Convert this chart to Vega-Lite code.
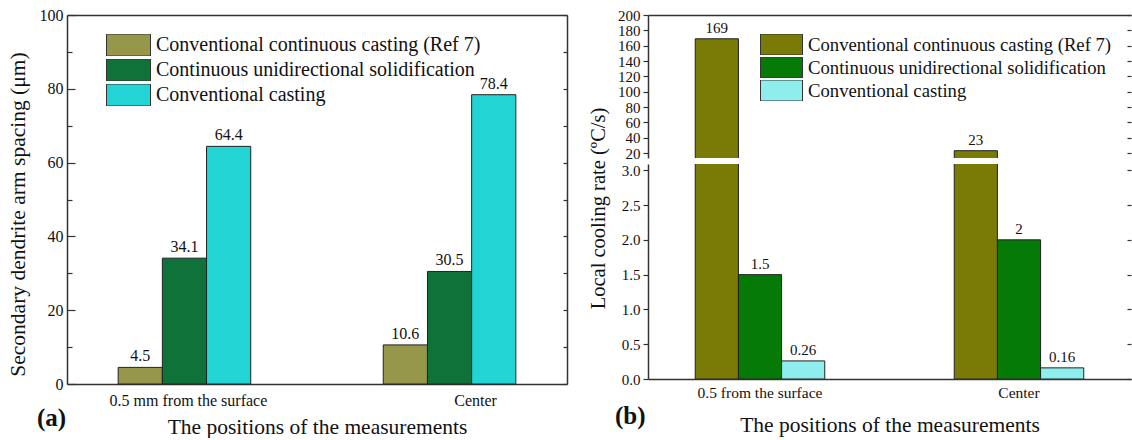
{
  "$schema": "https://vega.github.io/schema/vega-lite/v6.json",
  "padding": {"left": 7, "top": 7, "right": 0, "bottom": 0},
  "background": "white",
  "datasets": {
    "sdas": [
      {"position": "0.5 mm from the surface", "series": "Conventional continuous casting (Ref 7)", "value": 4.5},
      {"position": "0.5 mm from the surface", "series": "Continuous unidirectional solidification", "value": 34.1},
      {"position": "0.5 mm from the surface", "series": "Conventional casting", "value": 64.4},
      {"position": "Center", "series": "Conventional continuous casting (Ref 7)", "value": 10.6},
      {"position": "Center", "series": "Continuous unidirectional solidification", "value": 30.5},
      {"position": "Center", "series": "Conventional casting", "value": 78.4}
    ],
    "rate": [
      {"position": "0.5 from the surface", "series": "Conventional continuous casting (Ref 7)", "value": 169},
      {"position": "0.5 from the surface", "series": "Continuous unidirectional solidification", "value": 1.5},
      {"position": "0.5 from the surface", "series": "Conventional casting", "value": 0.26},
      {"position": "Center", "series": "Conventional continuous casting (Ref 7)", "value": 23},
      {"position": "Center", "series": "Continuous unidirectional solidification", "value": 2},
      {"position": "Center", "series": "Conventional casting", "value": 0.16}
    ]
  },
  "hconcat": [
    {
      "width": 500,
      "height": 369,
      "data": {"name": "sdas"},
      "title": {"text": "(a)", "orient": "bottom", "anchor": "start", "frame": "group", "font": "Liberation Serif", "fontSize": 25, "fontWeight": "bold", "dx": -30, "dy": -36, "color": "#111"},
      "layer": [
        {
          "mark": {"type": "bar", "stroke": "#222", "strokeWidth": 1},
          "encoding": {
            "x": {"field": "position", "type": "nominal",
              "scale": {"type": "band", "domain": ["0.5 mm from the surface", "Center"], "paddingInner": 0.5, "paddingOuter": 0.193},
              "axis": {"orient": "bottom", "title": "The positions of the measurements", "titleFont": "Liberation Serif", "titleFontSize": 21.5, "titlePadding": 8, "labelFont": "Liberation Serif", "labelFontSize": 16, "labelPadding": 8, "ticks": false, "labelAngle": 0,
                "labelOffset": {"condition": {"test": "datum.value === 'Center'", "value": 26}, "value": 4}}},
            "xOffset": {"field": "series", "type": "nominal",
              "scale": {"type": "band", "domain": ["Conventional continuous casting (Ref 7)", "Continuous unidirectional solidification", "Conventional casting"], "paddingInner": 0, "paddingOuter": 0}},
            "y": {"field": "value", "type": "quantitative",
              "scale": {"domain": [0, 100], "nice": false},
              "axis": {"orient": "left", "values": [0, 10, 20, 30, 40, 50, 60, 70, 80, 90, 100],
                "labelExpr": "datum.value % 20 === 0 ? datum.label : ''",
                "tickSize": {"condition": {"test": "datum.value % 20 === 0", "value": -8}, "value": -5},
                "labelFont": "Liberation Serif", "labelFontSize": 16, "labelPadding": 12,
                "title": "Secondary dendrite arm spacing (μm)", "titleFont": "Liberation Serif", "titleFontSize": 21.5,
                "titleX": -49, "titleY": 199, "titleAngle": -90, "titleBaseline": "middle", "titleAlign": "center"}},
            "color": {"field": "series", "type": "nominal",
              "scale": {"domain": ["Conventional continuous casting (Ref 7)", "Continuous unidirectional solidification", "Conventional casting"], "range": ["#97974c", "#0f7339", "#22d4d4"]},
              "legend": {"orient": "none", "legendX": 39, "legendY": 19, "title": null, "padding": 0,
                "symbolType": "M-1,-0.5H1V0.5H-1Z", "symbolSize": 1936, "symbolStrokeColor": "#333", "symbolStrokeWidth": 1, "symbolOpacity": 1,
                "clipHeight": 22,
                "labelFont": "Liberation Serif", "labelFontSize": 20, "labelColor": "#111", "labelOffset": 5, "rowPadding": 3, "labelLimit": 500}}
          }
        },
        {
          "mark": {"type": "text", "font": "Liberation Serif", "fontSize": 16, "baseline": "alphabetic", "dy": -6, "color": "#111"},
          "encoding": {
            "x": {"field": "position", "type": "nominal",
              "scale": {"type": "band", "domain": ["0.5 mm from the surface", "Center"], "paddingInner": 0.5, "paddingOuter": 0.193},
              "axis": {"orient": "top", "labels": false, "ticks": false, "title": null}},
            "xOffset": {"field": "series", "type": "nominal",
              "scale": {"type": "point", "domain": ["Conventional continuous casting (Ref 7)", "Continuous unidirectional solidification", "Conventional casting"], "padding": 0.5}},
            "y": {"field": "value", "type": "quantitative",
              "scale": {"domain": [0, 100], "nice": false},
              "axis": {"orient": "right", "values": [0, 10, 20, 30, 40, 50, 60, 70, 80, 90, 100], "labels": false, "tickSize": -4, "title": null}},
            "text": {"field": "value", "type": "nominal"}
          }
        }
      ],
      "resolve": {"scale": {"x": "independent", "y": "independent", "xOffset": "independent"}}
    },
    {
      "vconcat": [
        {
          "width": 483,
          "height": 143,
          "data": {"name": "rate"},
          "layer": [
            {
              "mark": {"type": "bar", "stroke": "#222", "strokeWidth": 1, "clip": true},
              "encoding": {
                "x": {"field": "position", "type": "nominal",
                  "scale": {"type": "band", "domain": ["0.5 from the surface", "Center"], "paddingInner": 0.5, "paddingOuter": 0.1825},
                  "axis": {"orient": "top", "labels": false, "ticks": false, "title": null}},
                "xOffset": {"field": "series", "type": "nominal",
                  "scale": {"type": "band", "domain": ["Conventional continuous casting (Ref 7)", "Continuous unidirectional solidification", "Conventional casting"], "paddingInner": 0, "paddingOuter": 0}},
                "y": {"field": "value", "type": "quantitative",
                  "scale": {"domain": [13.5, 200], "nice": false, "zero": false},
                  "axis": {"orient": "left", "values": [20, 40, 60, 80, 100, 120, 140, 160, 180, 200], "tickSize": 5, "labelPadding": 3, "labelFont": "Liberation Serif", "labelFontSize": 15, "title": null}},
                "color": {"field": "series", "type": "nominal",
                  "scale": {"domain": ["Conventional continuous casting (Ref 7)", "Continuous unidirectional solidification", "Conventional casting"], "range": ["#7a7a06", "#067a06", "#8eeeee"]},
                  "legend": {"orient": "none", "legendX": 112, "legendY": 19, "title": null, "padding": 0,
                    "symbolType": "M-1,-0.5H1V0.5H-1Z", "symbolSize": 1764, "symbolStrokeColor": "#333", "symbolStrokeWidth": 1, "symbolOpacity": 1,
                    "clipHeight": 21,
                    "labelFont": "Liberation Serif", "labelFontSize": 18.7, "labelColor": "#111", "labelOffset": 5, "rowPadding": 2, "labelLimit": 500}}
              }
            },
            {
              "transform": [{"filter": "datum.series === 'Conventional continuous casting (Ref 7)'"}],
              "mark": {"type": "text", "font": "Liberation Serif", "fontSize": 15, "baseline": "alphabetic", "dy": -6, "color": "#111", "clip": true},
              "encoding": {
                "x": {"field": "position", "type": "nominal",
                  "scale": {"type": "band", "domain": ["0.5 from the surface", "Center"], "paddingInner": 0.5, "paddingOuter": 0.1825},
                  "axis": null},
                "xOffset": {"field": "series", "type": "nominal",
                  "scale": {"type": "point", "domain": ["Conventional continuous casting (Ref 7)", "Continuous unidirectional solidification", "Conventional casting"], "padding": 0.5}},
                "y": {"field": "value", "type": "quantitative",
                  "scale": {"domain": [13.5, 200], "nice": false, "zero": false},
                  "axis": {"orient": "right", "values": [20, 40, 60, 80, 100, 120, 140, 160, 180, 200], "labels": false, "tickSize": -4, "domain": false, "title": null}},
                "text": {"field": "value", "type": "nominal"}
              }
            }
          ],
          "resolve": {"scale": {"x": "independent", "y": "independent", "xOffset": "independent"}}
        },
        {
          "width": 483,
          "height": 215,
          "data": {"name": "rate"},
          "title": {"text": "(b)", "orient": "bottom", "anchor": "start", "frame": "group", "font": "Liberation Serif", "fontSize": 25, "fontWeight": "bold", "dx": -33, "dy": -36, "color": "#111"},
          "layer": [
            {
              "mark": {"type": "bar", "stroke": "#222", "strokeWidth": 1, "clip": true},
              "encoding": {
                "x": {"field": "position", "type": "nominal",
                  "scale": {"type": "band", "domain": ["0.5 from the surface", "Center"], "paddingInner": 0.5, "paddingOuter": 0.1825},
                  "axis": {"orient": "bottom", "title": "The positions of the measurements", "titleFont": "Liberation Serif", "titleFontSize": 21.5, "titlePadding": 14, "labelFont": "Liberation Serif", "labelFontSize": 15.5, "labelPadding": 6, "ticks": false, "labelAngle": 0}},
                "xOffset": {"field": "series", "type": "nominal",
                  "scale": {"type": "band", "domain": ["Conventional continuous casting (Ref 7)", "Continuous unidirectional solidification", "Conventional casting"], "paddingInner": 0, "paddingOuter": 0}},
                "y": {"field": "value", "type": "quantitative",
                  "scale": {"domain": [0, 3.09], "nice": false},
                  "axis": {"orient": "left", "values": [0, 0.5, 1, 1.5, 2, 2.5, 3], "format": ".1f", "tickSize": 5, "labelPadding": 3, "labelFont": "Liberation Serif", "labelFontSize": 15,
                    "title": "Local cooling rate (ºC/s)", "titleFont": "Liberation Serif", "titleFontSize": 20.5, "titleX": -50, "titleY": 44, "titleAngle": -90, "titleBaseline": "middle", "titleAlign": "center"}},
                "color": {"field": "series", "type": "nominal",
                  "scale": {"domain": ["Conventional continuous casting (Ref 7)", "Continuous unidirectional solidification", "Conventional casting"], "range": ["#7a7a06", "#067a06", "#8eeeee"]},
                  "legend": null}
              }
            },
            {
              "transform": [{"filter": "datum.series !== 'Conventional continuous casting (Ref 7)'"}],
              "mark": {"type": "text", "font": "Liberation Serif", "fontSize": 15, "baseline": "alphabetic", "dy": -6, "color": "#111", "clip": true},
              "encoding": {
                "x": {"field": "position", "type": "nominal",
                  "scale": {"type": "band", "domain": ["0.5 from the surface", "Center"], "paddingInner": 0.5, "paddingOuter": 0.1825},
                  "axis": null},
                "xOffset": {"field": "series", "type": "nominal",
                  "scale": {"type": "point", "domain": ["Conventional continuous casting (Ref 7)", "Continuous unidirectional solidification", "Conventional casting"], "padding": 0.5}},
                "y": {"field": "value", "type": "quantitative",
                  "scale": {"domain": [0, 3.09], "nice": false},
                  "axis": {"orient": "right", "values": [0, 0.5, 1, 1.5, 2, 2.5, 3], "labels": false, "tickSize": -4, "domain": false, "title": null}},
                "text": {"field": "value", "type": "nominal"}
              }
            }
          ],
          "resolve": {"scale": {"x": "independent", "y": "independent", "xOffset": "independent"}}
        }
      ],
      "spacing": 6,
      "bounds": "flush",
      "resolve": {"scale": {"color": "independent"}, "legend": {"color": "independent"}}
    }
  ],
  "spacing": 81,
  "bounds": "flush",
  "resolve": {"scale": {"color": "independent"}, "legend": {"color": "independent"}},
  "config": {
    "font": "Liberation Serif",
    "view": {"stroke": null},
    "axis": {"labelFont": "Liberation Serif", "titleFont": "Liberation Serif", "labelColor": "#111", "titleColor": "#111",
      "domainColor": "#333", "tickColor": "#333", "domainWidth": 1.5, "tickWidth": 1.2, "titleFontWeight": "normal", "grid": false},
    "legend": {"labelFont": "Liberation Serif"},
    "title": {"font": "Liberation Serif"},
    "text": {"font": "Liberation Serif"}
  }
}
